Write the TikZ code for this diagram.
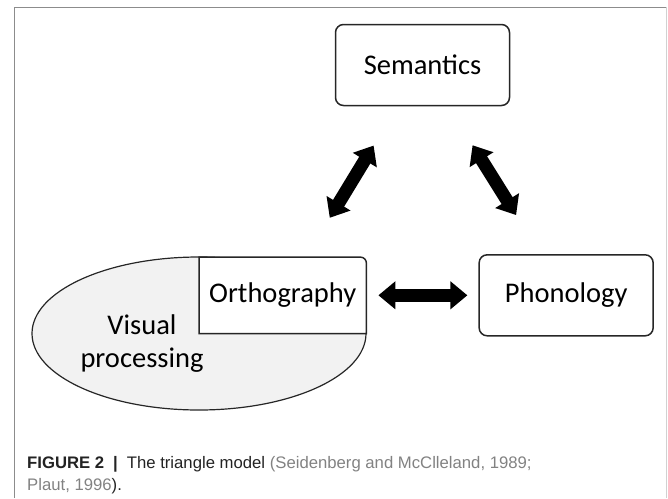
\documentclass[tikz,border=0pt]{standalone}
\usepackage{fontspec}
\setmainfont{Carlito}
\newfontfamily\captionfont{Liberation Sans}
\usepackage{tikz}
\usetikzlibrary{positioning}
\usetikzlibrary{arrows.meta}
\usetikzlibrary{shapes.geometric}
\definecolor{visualgray}{RGB}{242,242,242}
\definecolor{framegray}{RGB}{140,140,140}
\definecolor{citegray}{RGB}{130,130,130}
\definecolor{captiondark}{RGB}{35,35,35}

\begin{document}
\begin{tikzpicture}[x=1pt, y=-1pt,
roundednode/.style={rectangle, rounded corners=8pt, draw=black!85, fill=white, line width=1.5pt, minimum width=174pt, minimum height=81pt, font=\fontsize{28.5}{34}\selectfont},
visualnode/.style={ellipse, draw=black!85, fill=visualgray, line width=1.2pt, minimum width=334pt, minimum height=153pt, inner sep=0pt},
orthonode/.style={rectangle, fill=white, minimum width=167pt, minimum height=76pt, inner sep=0pt, font=\fontsize{28.5}{34}\selectfont},
plaintext/.style={align=center, font=\fontsize{28.5}{33}\selectfont},
captiontext/.style={align=left, inner sep=0pt, font=\captionfont\fontsize{16.7}{22}\selectfont},
blockarrow/.style={line width=13pt, {Triangle[width=27pt,length=17pt]}-{Triangle[width=27pt,length=17pt]}},
]
\useasboundingbox (0,0) rectangle (668,498);
%Frame
\draw[framegray, line width=1pt] (14,498) -- (14,7) -- (666,7);
\draw[framegray!40, line width=1pt] (666,7) -- (666,498);

%Nodes
\node[roundednode]      (sem)      at (422.5,65)                   {Semantics};
\node[visualnode]       (vis)      at (199,333.5)                  {};
\node[orthonode]        (ortho)    [anchor=south west] at (vis.center) {Orthography};
\node[roundednode]      (phon)     [right=112pt of ortho]          {Phonology};
\node[plaintext]        (vistext)  at (142,343.5)                  {Visual\\processing};
\draw[line width=1.5pt, draw=black!85] (ortho.south west) -- (ortho.north west) -- ([xshift=-6pt]ortho.north east) arc[start angle=90, end angle=0, radius=6pt] -- (ortho.south east) -- cycle;

%Lines
\draw[blockarrow, shorten <=12pt, shorten >=11pt] (ortho.east) -- (phon.west);
\draw[blockarrow, shorten <=46pt, shorten >=46pt] (ortho) -- (sem);
\draw[blockarrow, shorten <=46pt, shorten >=46pt] (sem) -- (phon);

%Caption
\node[captiontext, anchor=north west] (caption) at (27,456) {{\bfseries\color{captiondark}FIGURE 2\hspace{9pt}|\hspace{9pt}}{\color{captiondark}The triangle model }{\color{citegray}(Seidenberg and McClleland, 1989;}\\{\color{citegray}Plaut, 1996}{\color{captiondark}).}};
\end{tikzpicture}
\end{document}
